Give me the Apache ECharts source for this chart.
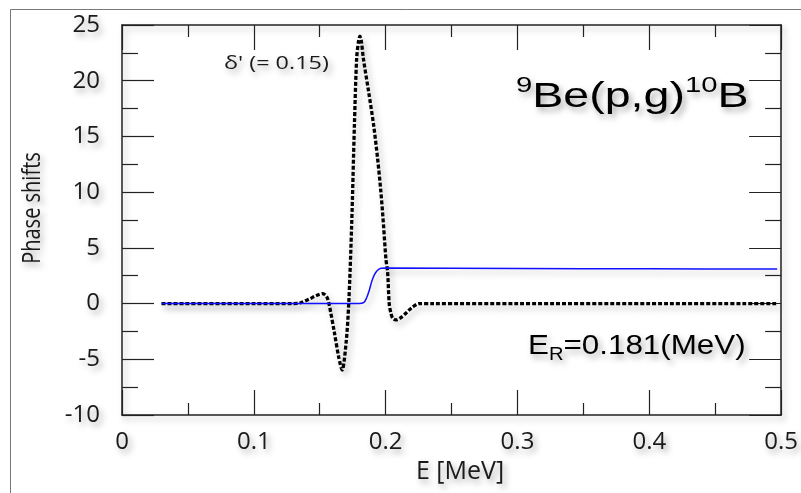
<!DOCTYPE html>
<html>
<head>
<meta charset="utf-8">
<script src="https://cdn.jsdelivr.net/npm/echarts@6/dist/echarts.min.js"></script>
<style>
  html, body { margin: 0; padding: 0; background: #ffffff; }
  #chart { width: 801px; height: 493px; }
</style>
</head>
<body>
<div id="chart"></div>
<script>
// Phase shift δ' (= 0.15) for 9Be(p,g)10B versus proton energy E [MeV]
const energyDashed = [0.03, 0.10, 0.13, 0.135, 0.142, 0.148, 0.1523, 0.1553, 0.157, 0.1611, 0.1644, 0.167, 0.170, 0.172,
  0.1742, 0.1763, 0.178, 0.1795, 0.1805, 0.1815, 0.1831, 0.1871, 0.1909, 0.1939, 0.1964, 0.1984, 0.2002, 0.2015,
  0.2027, 0.204, 0.2053, 0.2078, 0.211, 0.2153, 0.220, 0.2254, 0.235, 0.30, 0.40, 0.497];
const phaseDashed = [0, 0, 0, 0.05, 0.4, 0.75, 0.9, 0.6, 0, -2.6, -4.8, -5.96, -3.5, 0,
  7, 16, 22, 23.6, 24, 23.6, 22, 19, 16, 13, 10, 7, 4, 2.8,
  0, -0.87, -1.3, -1.47, -1.3, -0.87, -0.35, 0, 0, 0, 0, 0];

const energySolid = [0.03, 0.10, 0.180, 0.1835, 0.1855, 0.1876, 0.1895, 0.1914, 0.1935, 0.1964, 0.200, 0.30, 0.40, 0.497];
const phaseSolid = [0, 0, 0, 0.1, 0.5, 1.2, 2.0, 2.57, 2.95, 3.17, 3.2, 3.15, 3.12, 3.1];

const xTicks = { min: 0, max: 0.5, step: 0.1 };
const yTicks = { min: -10, max: 25, step: 5 };

const pairs = (xs, ys) => xs.map((x, i) => [x, ys[i]]);

const shadow = {
  textShadowColor: 'rgba(0,0,0,0.35)',
  textShadowBlur: 6,
  textShadowOffsetX: 3,
  textShadowOffsetY: 4
};
const lineShadow = {
  shadowColor: 'rgba(0,0,0,0.28)',
  shadowBlur: 6,
  shadowOffsetX: 3,
  shadowOffsetY: 4
};

function xAxisDef(pos, showLabels) {
  return {
    type: 'value', position: pos,
    min: xTicks.min, max: xTicks.max, interval: xTicks.step,
    axisLine: { show: true, onZero: false, lineStyle: Object.assign({ color: '#222', width: 1.5 }, lineShadow) },
    axisTick: { show: true, inside: true, length: 25, lineStyle: { color: '#222', width: 1.2 } },
    minorTick: { show: true, splitNumber: 2, length: 12, lineStyle: { color: '#222', width: 1.2 } },
    splitLine: { show: false },
    axisLabel: Object.assign({
      show: showLabels, margin: 15, color: '#1a1a1a',
      fontFamily: 'Open Sans', fontSize: 24
    }, shadow)
  };
}
function yAxisDef(pos, showLabels) {
  return {
    type: 'value', position: pos,
    min: yTicks.min, max: yTicks.max, interval: yTicks.step,
    axisLine: { show: true, onZero: false, lineStyle: Object.assign({ color: '#222', width: 1.5 }, lineShadow) },
    axisTick: { show: true, inside: true, length: 32, lineStyle: { color: '#222', width: 1.2 } },
    minorTick: { show: true, splitNumber: 2, length: 16, lineStyle: { color: '#222', width: 1.2 } },
    splitLine: { show: false },
    axisLabel: Object.assign({
      show: showLabels, margin: 22, color: '#1a1a1a',
      fontFamily: 'Open Sans', fontSize: 24
    }, shadow)
  };
}

const chart = echarts.init(document.getElementById('chart'), null, { renderer: 'canvas' });
chart.setOption({
  backgroundColor: '#ffffff',
  animation: false,
  grid: { left: 122, right: 18, top: 25, bottom: 78, containLabel: false },
  xAxis: [xAxisDef('bottom', true), xAxisDef('top', false)],
  yAxis: [yAxisDef('left', true), yAxisDef('right', false)],
  series: [
    {
      name: "δ'", type: 'line', xAxisIndex: 0, yAxisIndex: 0,
      data: pairs(energyDashed, phaseDashed),
      showSymbol: false, smooth: 0.3,
      lineStyle: Object.assign({ color: '#000000', width: 3.3, type: [4, 2] }, lineShadow)
    },
    {
      name: 'E_R', type: 'line', xAxisIndex: 0, yAxisIndex: 0,
      data: pairs(energySolid, phaseSolid),
      showSymbol: false, smooth: 0.3,
      lineStyle: Object.assign({ color: '#1010ff', width: 1.5 }, lineShadow)
    }
  ],
  graphic: [
    {
      type: 'rect', silent: true, z: -1,
      shape: { x: 10.5, y: 9.5, width: 800, height: 500 },
      style: { fill: 'none', stroke: '#777', lineWidth: 1 }
    },
    {
      type: 'text', x: 33, y: 208, rotation: Math.PI / 2, scaleX: 0.8,
      style: Object.assign({
        text: 'Phase shifts', fill: '#1a1a1a',
        font: '25px "Open Sans"', textAlign: 'center', textVerticalAlign: 'middle'
      }, shadow)
    },
    {
      type: 'text', x: 460, y: 472,
      style: Object.assign({
        text: 'E [MeV]', fill: '#1a1a1a',
        font: '25px "Open Sans"', textAlign: 'center', textVerticalAlign: 'middle'
      }, shadow)
    },
    {
      type: 'text', x: 224, y: 64, scaleX: 1.3,
      style: Object.assign({
        text: "δ' (= 0.15)", fill: '#1a1a1a',
        font: '18px "Open Sans"', textAlign: 'left', textVerticalAlign: 'middle'
      }, shadow)
    },
    {
      type: 'text', x: 516, y: 95, scaleX: 1.33,
      style: Object.assign({
        text: '{sup|9}{main|Be(p,g)}{sup|10}{main|B}',
        fill: '#000', textAlign: 'left', textVerticalAlign: 'middle',
        rich: {
          main: { fontFamily: 'Liberation Sans', fontSize: 35, lineHeight: 40, verticalAlign: 'bottom', fill: '#000' },
          sup: { fontFamily: 'Liberation Sans', fontSize: 22, lineHeight: 26, verticalAlign: 'top', fill: '#000' }
        }
      }, shadow)
    },
    {
      type: 'text', x: 528, y: 348, scaleX: 1.12,
      style: Object.assign({
        text: '{main|E}{sub|R}{main|=0.181(MeV)}',
        fill: '#000', textAlign: 'left', textVerticalAlign: 'middle',
        rich: {
          main: { fontFamily: 'Liberation Sans', fontSize: 28, lineHeight: 32, verticalAlign: 'top', fill: '#000' },
          sub: { fontFamily: 'Liberation Sans', fontSize: 18, lineHeight: 20, verticalAlign: 'bottom', fill: '#000' }
        }
      }, shadow)
    }
  ]
});
</script>
</body>
</html>
